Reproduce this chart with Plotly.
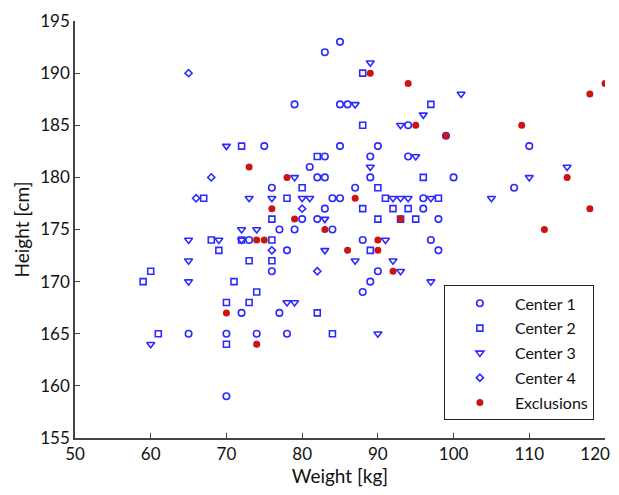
import plotly.graph_objects as go

# Center 1 (circles)
c1_weight = [75, 85, 83, 79, 85, 86, 94, 99, 85, 90, 83, 94, 110, 100, 108, 98, 97, 98, 73, 72,
             65, 70, 74, 70, 88, 77, 78, 89, 81, 82, 83, 89, 76, 87, 84, 85, 96, 83, 96, 80,
             82, 77, 79, 84, 88, 78, 76, 90, 89]
c1_height = [183, 193, 192, 187, 187, 187, 185, 184, 183, 183, 182, 182, 183, 180, 179, 176, 174, 173, 174, 167,
             165, 165, 165, 159, 169, 167, 165, 182, 181, 180, 180, 180, 179, 179, 178, 178, 178, 177, 177, 176,
             176, 175, 175, 175, 174, 173, 171, 171, 170]

# Center 2 (squares)
c2_weight = [72, 88, 97, 88, 82, 98, 67, 68, 72, 69, 73, 60, 59, 71, 74, 70, 73, 61, 70, 82,
             84, 96, 80, 90, 78, 91, 88, 92, 94, 76, 90, 93, 95, 76, 89, 76]
c2_height = [183, 190, 187, 185, 182, 178, 178, 174, 174, 173, 172, 171, 170, 170, 169, 168, 168, 165, 164, 167,
             165, 180, 179, 179, 178, 178, 177, 177, 177, 176, 176, 176, 176, 174, 173, 172]

# Center 3 (down triangles)
c3_weight = [89, 87, 96, 93, 95, 70, 101, 115, 110, 105, 97, 97, 73, 72, 74, 65, 69, 72, 65, 65,
             60, 78, 79, 90, 89, 79, 76, 80, 81, 92, 93, 94, 83, 91, 83, 87, 92, 93]
c3_height = [191, 187, 186, 185, 182, 183, 188, 181, 180, 178, 178, 170, 178, 175, 175, 174, 174, 174, 172, 170,
             164, 168, 168, 165, 181, 180, 178, 178, 178, 178, 178, 178, 176, 174, 173, 172, 172, 171]

# Center 4 (diamonds)
c4_weight = [65, 68, 66, 80, 76, 82]
c4_height = [190, 180, 178, 177, 173, 171]

# Exclusions (filled red)
ex_weight = [89, 94, 95, 99, 109, 118, 120, 115, 118, 112, 73, 74, 75, 70, 74, 78, 87, 76, 79, 93,
             83, 90, 86, 90, 92]
ex_height = [190, 189, 185, 184, 185, 188, 189, 180, 177, 175, 181, 174, 174, 167, 164, 180, 178, 177, 176, 176,
             175, 174, 173, 173, 171]

x_ticks = [50, 60, 70, 80, 90, 100, 110, 120]
# last label padded with figure spaces so it is not cut at the window edge
x_tick_labels = ["50", "60", "70", "80", "90", "100", "110", "120\u2007\u2007"]
y_ticks = [155, 160, 165, 170, 175, 180, 185, 190, 195]
y_tick_labels = ["155", "160", "165", "170", "175", "180", "185", "190", "195"]

BLUE = "#2b2bff"
RED = "#cc1414"
FONT = "Lato"

fig = go.Figure()

def add_open(name, xs, ys, symbol, size):
    fig.add_trace(go.Scatter(
        x=xs, y=ys, mode="markers", name=name, legendgroup=name,
        marker=dict(symbol=symbol, size=size, color=BLUE,
                    line=dict(color=BLUE, width=1.6)),
    ))

add_open("Center 1", c1_weight, c1_height, "circle-open", 6.5)
add_open("Center 2", c2_weight, c2_height, "square-open", 6)
add_open("Center 3", c3_weight, c3_height, "triangle-down-open", 7)
add_open("Center 4", c4_weight, c4_height, "diamond-open", 5.5)

fig.add_trace(go.Scatter(
    x=ex_weight, y=ex_height, mode="markers", name="Exclusions", legendgroup="Exclusions",
    marker=dict(symbol="circle", size=7, color=RED, line=dict(width=0)),
))

axis_common = dict(
    showgrid=False, zeroline=False, showline=True, linecolor="#444444", linewidth=1.5,
    ticks="inside", ticklen=5, tickwidth=1.2, tickcolor="#444444",
    tickfont=dict(family=FONT, size=17, color="#111111"),
    mirror=False, automargin=False, ticklabeloverflow="allow",
)

# the page body adds an 8px offset, so margins are reduced accordingly
fig.update_layout(
    width=619, height=479,
    margin=dict(l=67, r=22, t=13, b=49),
    paper_bgcolor="white", plot_bgcolor="white",
    font=dict(family=FONT, size=16, color="#111111"),
    xaxis=dict(range=[50, 120], tickvals=x_ticks, ticktext=x_tick_labels,
               title=dict(text="Weight [kg]", font=dict(family=FONT, size=19), standoff=2),
               **axis_common),
    yaxis=dict(range=[155, 195], tickvals=y_ticks, ticktext=y_tick_labels,
               title=dict(text="Height [cm]", font=dict(family=FONT, size=19), standoff=6),
               **axis_common),
    legend=dict(
        x=0.696, y=0.366, xanchor="left", yanchor="top",
        bordercolor="#222222", borderwidth=1, bgcolor="white",
        font=dict(family=FONT, size=16, color="#111111"),
        itemwidth=60, tracegroupgap=1,
    ),
)

fig.write_html("out.html")
